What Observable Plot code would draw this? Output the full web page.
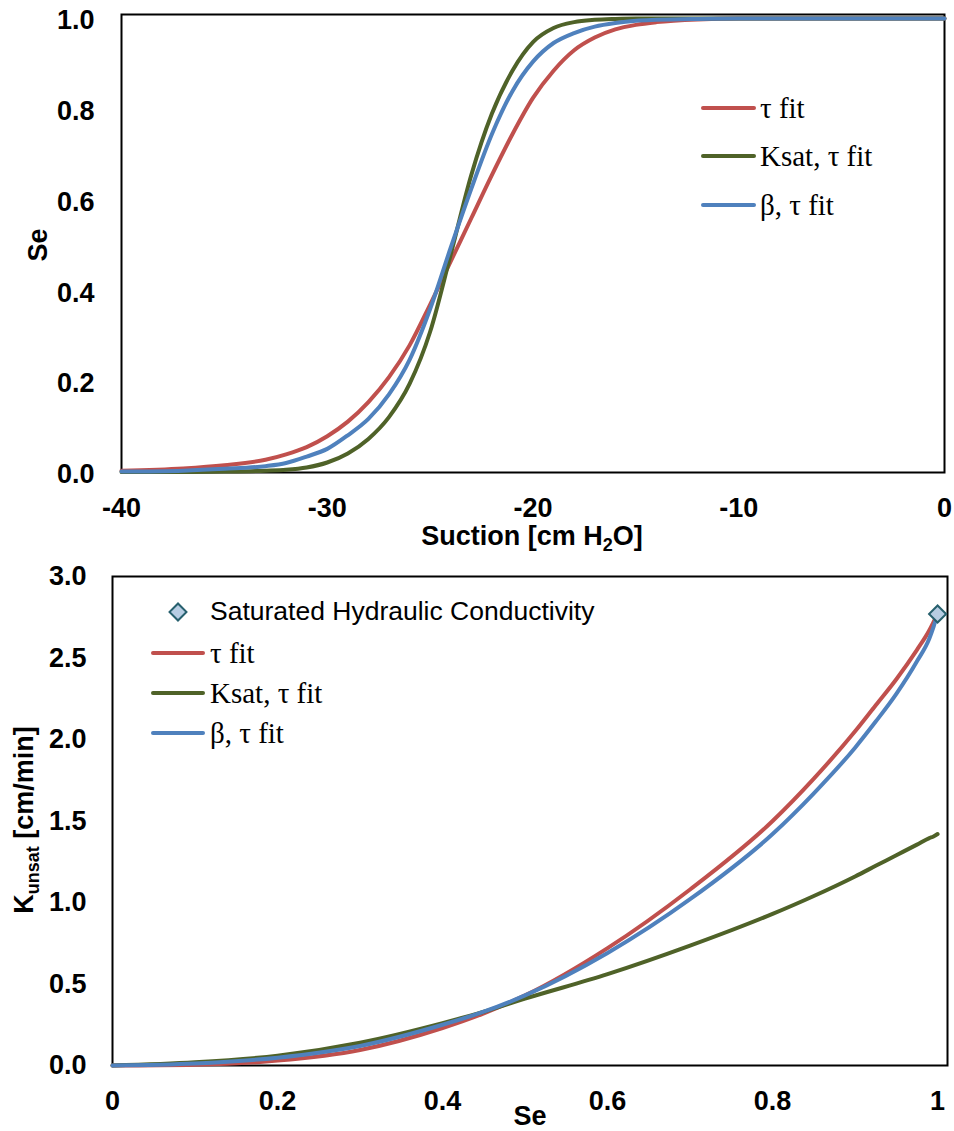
<!DOCTYPE html>
<html><head><meta charset="utf-8">
<script src="https://cdn.jsdelivr.net/npm/d3@7"></script>
<script src="https://cdn.jsdelivr.net/npm/@observablehq/plot@0.6"></script>
<style>
body{margin:0;background:#fff;}
#chart{width:954px;}
#chart svg{display:block;max-width:none;}
</style></head><body><div id="chart"></div>
<script>
// ---------- data: top panel (water retention) ----------
const seriesNames = ["τ fit", "Ksat, τ fit", "β, τ fit"];
const seriesColors = ["#C0504D", "#4F6228", "#4F81BD"];

const suction = [-40,-37,-35,-33,-32,-31,-30,-29,-28,-27,-26,-25,-24,-23,-22,-21,-20,-19,-18,-17,-16,-15,-14,-12,-10,0];
const seTau      = [0.004,0.009,0.016,0.028,0.040,0.056,0.08,0.112,0.155,0.21,0.28,0.37,0.465,0.56,0.655,0.745,0.825,0.885,0.93,0.958,0.976,0.986,0.992,0.998,1,1];
const seKsatTau  = [0.001,0.001,0.002,0.004,0.006,0.011,0.022,0.042,0.074,0.122,0.195,0.31,0.48,0.655,0.79,0.885,0.948,0.979,0.992,0.997,0.999,1,1,1,1,1];
const seBetaTau  = [0.002,0.004,0.008,0.014,0.021,0.035,0.052,0.082,0.118,0.172,0.248,0.36,0.495,0.625,0.745,0.84,0.905,0.946,0.968,0.982,0.99,0.995,0.997,0.999,1,1];

const suctionTicks = [-40,-30,-20,-10,0];
const suctionTickLabels = ["-40","-30","-20","-10","0"];
const seTicks = [0,0.2,0.4,0.6,0.8,1.0];
const seTickLabels = ["0.0","0.2","0.4","0.6","0.8","1.0"];

// ---------- data: bottom panel (unsaturated conductivity) ----------
const seK        = [0,0.1,0.2,0.3,0.4,0.45,0.5,0.6,0.7,0.8,0.85,0.9,0.925,0.95,0.975,0.99,0.995,1];
const kTau       = [0,0.005,0.03,0.095,0.23,0.32,0.43,0.72,1.08,1.50,1.76,2.05,2.21,2.37,2.55,2.67,2.72,2.77];
const kKsatTau   = [0,0.02,0.06,0.14,0.26,0.33,0.41,0.56,0.735,0.93,1.04,1.16,1.225,1.29,1.355,1.395,1.405,1.42];
const kBetaTau   = [0,0.012,0.048,0.12,0.25,0.33,0.43,0.69,1.02,1.42,1.67,1.95,2.11,2.28,2.48,2.62,2.69,2.77];
const ksatName = "Saturated Hydraulic Conductivity";
const ksatSe = [1.0];
const ksatK = [2.77];

const seXTicks = [0,0.2,0.4,0.6,0.8,1];
const seXTickLabels = ["0","0.2","0.4","0.6","0.8","1"];
const kTicks = [0,0.5,1.0,1.5,2.0,2.5,3.0];
const kTickLabels = ["0.0","0.5","1.0","1.5","2.0","2.5","3.0"];

// ---------- build tables ----------
const topSeries = [seTau, seKsatTau, seBetaTau];
const topData = topSeries.flatMap((arr, s) => arr.map((v, i) => ({suction: suction[i], se: v, series: seriesNames[s]})));
const botSeries = [kTau, kKsatTau, kBetaTau];
const botData = botSeries.flatMap((arr, s) => arr.map((v, i) => ({se: seK[i], k: v, series: seriesNames[s]})));
const ksatData = ksatSe.map((v, i) => ({se: v, k: ksatK[i]}));

const SANS = "'Liberation Sans', Arial, Helvetica, sans-serif";
const SERIF = "'Liberation Serif', 'Times New Roman', serif";
const lab = (ticks, labels) => { const m = new Map(ticks.map((t, i) => [t, labels[i]])); return d => m.get(d); };
const baseStyle = {fontFamily: SANS, fontSize: "27px", fontWeight: "bold", color: "#000", background: "#fff", overflow: "visible"};

const topPlot = Plot.plot({
  width: 954, height: 550,
  marginLeft: 121, marginRight: 10, marginTop: 18, marginBottom: 78,
  style: baseStyle,
  x: {domain: [-40, 0]},
  y: {domain: [0, 1]},
  color: {domain: seriesNames, range: seriesColors},
  marks: [
    Plot.frame({stroke: "#000", strokeWidth: 2, insetTop: -4}),
    Plot.axisX({ticks: suctionTicks, tickFormat: lab(suctionTicks, suctionTickLabels), tickSize: 0, tickPadding: 25, label: null}),
    Plot.axisY({ticks: seTicks, tickFormat: lab(seTicks, seTickLabels), tickSize: 0, tickPadding: 27, label: null, dy: 2}),
    Plot.line(topData, {x: "suction", y: "se", z: "series", stroke: "series", curve: "monotone-x", strokeWidth: 4})
  ]
});

const botPlot = Plot.plot({
  width: 954, height: 581,
  marginLeft: 112, marginRight: 7, marginTop: 26, marginBottom: 66,
  style: baseStyle,
  x: {domain: [0, 1.012]},
  y: {domain: [0, 3]},
  color: {domain: seriesNames, range: seriesColors},
  marks: [
    Plot.frame({stroke: "#000", strokeWidth: 2}),
    Plot.axisX({ticks: seXTicks, tickFormat: lab(seXTicks, seXTickLabels), tickSize: 0, tickPadding: 25, label: null}),
    Plot.axisY({ticks: kTicks, tickFormat: lab(kTicks, kTickLabels), tickSize: 0, tickPadding: 26, label: null}),
    Plot.line(botData, {x: "se", y: "k", z: "series", stroke: "series", curve: "monotone-x", strokeWidth: 4}),
    Plot.dot(ksatData, {x: "se", y: "k", symbol: "square", r: 6.8, rotate: 45, fill: "#B7CDE3", stroke: "#27606E", strokeWidth: 2})
  ]
});

const chart = document.getElementById("chart");
chart.appendChild(topPlot);
chart.appendChild(botPlot);

// ---------- titles ----------
const ts = d3.select(topPlot);
ts.append("text").attr("transform", "translate(47,245) rotate(-90)").attr("text-anchor", "middle")
  .style("font", `bold 27px ${SANS}`).attr("fill", "#000").text("Se");
const xt = ts.append("text").attr("x", 532).attr("y", 545).attr("text-anchor", "middle")
  .style("font", `bold 27px ${SANS}`).attr("fill", "#000");
xt.append("tspan").text("Suction [cm H");
xt.append("tspan").style("font-size", "18px").attr("dy", 6).text("2");
xt.append("tspan").attr("dy", -6).text("O]");

const bs = d3.select(botPlot);
const yt = bs.append("text").attr("transform", "translate(33,270) rotate(-90)").attr("text-anchor", "middle")
  .style("font", `bold 27px ${SANS}`).attr("fill", "#000");
yt.append("tspan").text("K");
yt.append("tspan").style("font-size", "18px").attr("dy", 6).text("unsat");
yt.append("tspan").attr("dy", -6).text(" [cm/min]");
bs.append("text").attr("x", 530).attr("y", 575).attr("text-anchor", "middle")
  .style("font", `bold 27px ${SANS}`).attr("fill", "#000").text("Se");

// ---------- legends ----------
function lineLegend(sel, x0, x1, ys, tx) {
  seriesNames.forEach((name, i) => {
    sel.append("line").attr("x1", x0).attr("x2", x1).attr("y1", ys[i]).attr("y2", ys[i])
      .attr("stroke", seriesColors[i]).attr("stroke-width", 4).attr("stroke-linecap", "round");
    sel.append("text").attr("x", tx).attr("y", ys[i] + 10).attr("text-anchor", "start")
      .style("font", `normal 29px ${SERIF}`).attr("fill", "#000").text(name);
  });
}
lineLegend(ts.append("g"), 703, 754, [108, 156, 205], 760);
const bl = bs.append("g");
bl.append("path").attr("d", d3.symbol(d3.symbolSquare, 144)()).attr("transform", "translate(178,62) rotate(45)")
  .attr("fill", "#B7CDE3").attr("stroke", "#27606E").attr("stroke-width", 2);
bl.append("text").attr("x", 210).attr("y", 70).attr("text-anchor", "start")
  .style("font", `normal 26.5px ${SANS}`).attr("fill", "#000").text(ksatName);
lineLegend(bl, 153, 203, [103, 143, 183], 210);
</script></body></html>
